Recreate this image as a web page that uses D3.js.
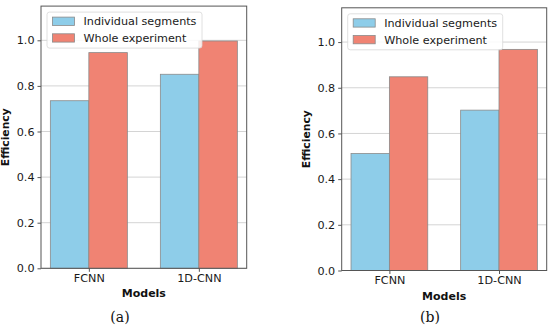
<!DOCTYPE html>
<html>
<head>
<meta charset="utf-8">
<script src="https://cdn.jsdelivr.net/npm/d3@7"></script>
<style>
  body { margin: 0; background: #fff; }
  svg { display: block; font-family: "DejaVu Sans", sans-serif; }
</style>
</head>
<body>
<div id="chart-area"></div>
<script>
// data
const models = ["FCNN", "1D-CNN"]
const seriesNames = ["Individual segments", "Whole experiment"]
const segmentsA = [0.735, 0.851]
const wholeA = [0.946, 0.997]
const segmentsB = [0.512, 0.702]
const wholeB = [0.848, 0.968]
const yTicks = [0, 0.2, 0.4, 0.6, 0.8, 1.0]
const panelLabels = ["(a)", "(b)"]

const COLORS = ["#8ecde9", "#f08373"]
const BAR_W = 0.35

const svg = d3.select("#chart-area")
  .append("svg")
  .attr("width", 550)
  .attr("height", 330)

function drawPanel(box, series, label) {
  const x = d3.scaleLinear()
    .domain([-0.435, 1.435])
    .range([box.left, box.right])
  const y = d3.scaleLinear()
    .domain([0, 1.15])
    .range([box.bottom, box.top])

  const g = svg.append("g")

  // grid
  g.append("g")
    .selectAll("line")
    .data(yTicks)
    .enter()
    .append("line")
    .attr("x1", box.left)
    .attr("x2", box.right)
    .attr("y1", d => y(d))
    .attr("y2", d => y(d))
    .attr("stroke", "#d4d4d4")
    .attr("stroke-width", 1)

  // bars
  series.forEach((vals, s) => {
    g.append("g")
      .selectAll("rect")
      .data(vals)
      .enter()
      .append("rect")
      .attr("x", (d, i) => x(i + (s - 1) * BAR_W))
      .attr("width", x(BAR_W) - x(0))
      .attr("y", d => y(d))
      .attr("height", d => y(0) - y(d))
      .attr("fill", COLORS[s])
      .attr("stroke", "#8a8a8a")
      .attr("stroke-width", 0.8)
  })

  // frame
  g.append("rect")
    .attr("x", box.left)
    .attr("y", box.top)
    .attr("width", box.right - box.left)
    .attr("height", box.bottom - box.top)
    .attr("fill", "none")
    .attr("stroke", "#555")
    .attr("stroke-width", 1)

  const yAxis = d3.axisLeft(y)
    .tickValues(yTicks)
    .tickFormat(d3.format(".1f"))
    .tickSize(3.5)
    .tickPadding(3)
  const xAxis = d3.axisBottom(x)
    .tickValues([0, 1])
    .tickFormat(i => models[i])
    .tickSize(3.5)
    .tickPadding(2.5)

  g.append("g")
    .attr("transform", `translate(${box.left},0)`)
    .call(yAxis)
    .call(a => a.select(".domain").remove())
    .call(a => a.selectAll("text").attr("font-size", 11.2).attr("fill", "#1a1a1a").attr("font-family", "DejaVu Sans"))
    .call(a => a.selectAll("line").attr("stroke", "#555"))

  g.append("g")
    .attr("transform", `translate(0,${box.bottom})`)
    .call(xAxis)
    .call(a => a.select(".domain").remove())
    .call(a => a.selectAll("text").attr("font-size", 11.2).attr("fill", "#1a1a1a").attr("font-family", "DejaVu Sans"))
    .call(a => a.selectAll("line").attr("stroke", "#555"))

  // axis titles
  g.append("text")
    .attr("transform", `translate(${box.left - 32},${(box.top + box.bottom) / 2}) rotate(-90)`)
    .attr("text-anchor", "middle")
    .attr("font-size", 10.8)
    .attr("font-weight", "bold")
    .attr("fill", "#111")
    .text("Efficiency")

  g.append("text")
    .attr("x", (box.left + box.right) / 2)
    .attr("y", box.bottom + 29)
    .attr("text-anchor", "middle")
    .attr("font-size", 11)
    .attr("font-weight", "bold")
    .attr("fill", "#111")
    .text("Models")

  // legend
  const lg = g.append("g")
    .attr("transform", `translate(${box.left + 6},${box.top + 6})`)
  lg.append("rect")
    .attr("width", 155)
    .attr("height", 36)
    .attr("rx", 2.5)
    .attr("fill", "#fff")
    .attr("fill-opacity", 0.85)
    .attr("stroke", "#d8d8d8")
    .attr("stroke-width", 0.8)
  seriesNames.forEach((name, s) => {
    lg.append("rect")
      .attr("x", 5.5)
      .attr("y", 5 + s * 16.7)
      .attr("width", 22)
      .attr("height", 8.3)
      .attr("fill", COLORS[s])
      .attr("stroke", "#8a8a8a")
      .attr("stroke-width", 0.8)
    lg.append("text")
      .attr("x", 36.5)
      .attr("y", 13.2 + s * 16.7)
      .attr("font-size", 11.2)
      .attr("fill", "#1a1a1a")
      .text(name)
  })

  // panel caption
  svg.append("text")
    .attr("x", box.caption)
    .attr("y", 322)
    .attr("text-anchor", "middle")
    .attr("font-family", "DejaVu Serif, serif")
    .attr("font-size", 14)
    .attr("fill", "#111")
    .text(label)
}

drawPanel({ left: 41, right: 246.7, top: 6.1, bottom: 268.3, caption: 120 },
  [segmentsA, wholeA], panelLabels[0])
drawPanel({ left: 341.7, right: 546.7, top: 7.8, bottom: 270.5, caption: 430 },
  [segmentsB, wholeB], panelLabels[1])
</script>
</body>
</html>
